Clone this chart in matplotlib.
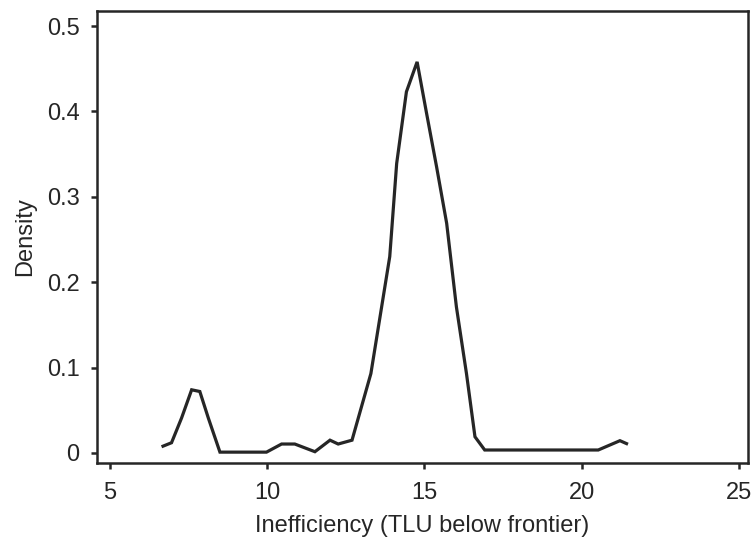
"""Kernel density of inefficiency (TLU below frontier)."""
import matplotlib
matplotlib.use("Agg")
import matplotlib.pyplot as plt

# density curve
ineff = [6.69, 6.96, 7.28, 7.60, 7.86, 8.13, 8.50, 9.98, 10.46, 10.88, 11.52,
         12.00, 12.26, 12.70, 13.30, 13.90, 14.12, 14.43, 14.77, 15.07, 15.39,
         15.71, 16.02, 16.34, 16.61, 16.92, 20.53, 21.22, 21.43]
density = [0.008, 0.012, 0.041, 0.074, 0.072, 0.041, 0.001, 0.001, 0.0105, 0.0105,
           0.0015, 0.015, 0.0105, 0.015, 0.093, 0.230, 0.339, 0.423, 0.458, 0.398,
           0.335, 0.269, 0.171, 0.093, 0.019, 0.0035, 0.0035, 0.0144, 0.011]

x_ticks = [5, 10, 15, 20, 25]
y_ticks = [0, 0.1, 0.2, 0.3, 0.4, 0.5]
y_tick_labels = ["0", "0.1", "0.2", "0.3", "0.4", "0.5"]

plt.rcParams["font.family"] = ["Liberation Sans", "DejaVu Sans"]
ink = "#262626"

fig = plt.figure(figsize=(7.56, 5.47), dpi=100)
ax = fig.add_axes([0.1283, 0.1536, 0.861, 0.8263])

ax.plot(ineff, density, color=ink, lw=2.3, solid_joinstyle="miter")

ax.set_xlim(4.59, 25.29)
ax.set_ylim(-0.0117, 0.5176)
ax.set_xticks(x_ticks)
ax.set_yticks(y_ticks)
ax.set_yticklabels(y_tick_labels)

for s in ax.spines.values():
    s.set_color(ink)
    s.set_linewidth(1.8)
ax.tick_params(direction="out", length=4.5, width=1.8, color=ink,
               labelsize=17, labelcolor=ink)
ax.tick_params(axis="x", pad=9)
ax.tick_params(axis="y", pad=8)

ax.set_xlabel("Inefficiency (TLU below frontier)", fontsize=17, color=ink, labelpad=8)
ax.set_ylabel("Density", fontsize=17, color=ink, labelpad=8)

fig.savefig("out.png", dpi=100, facecolor="white")
